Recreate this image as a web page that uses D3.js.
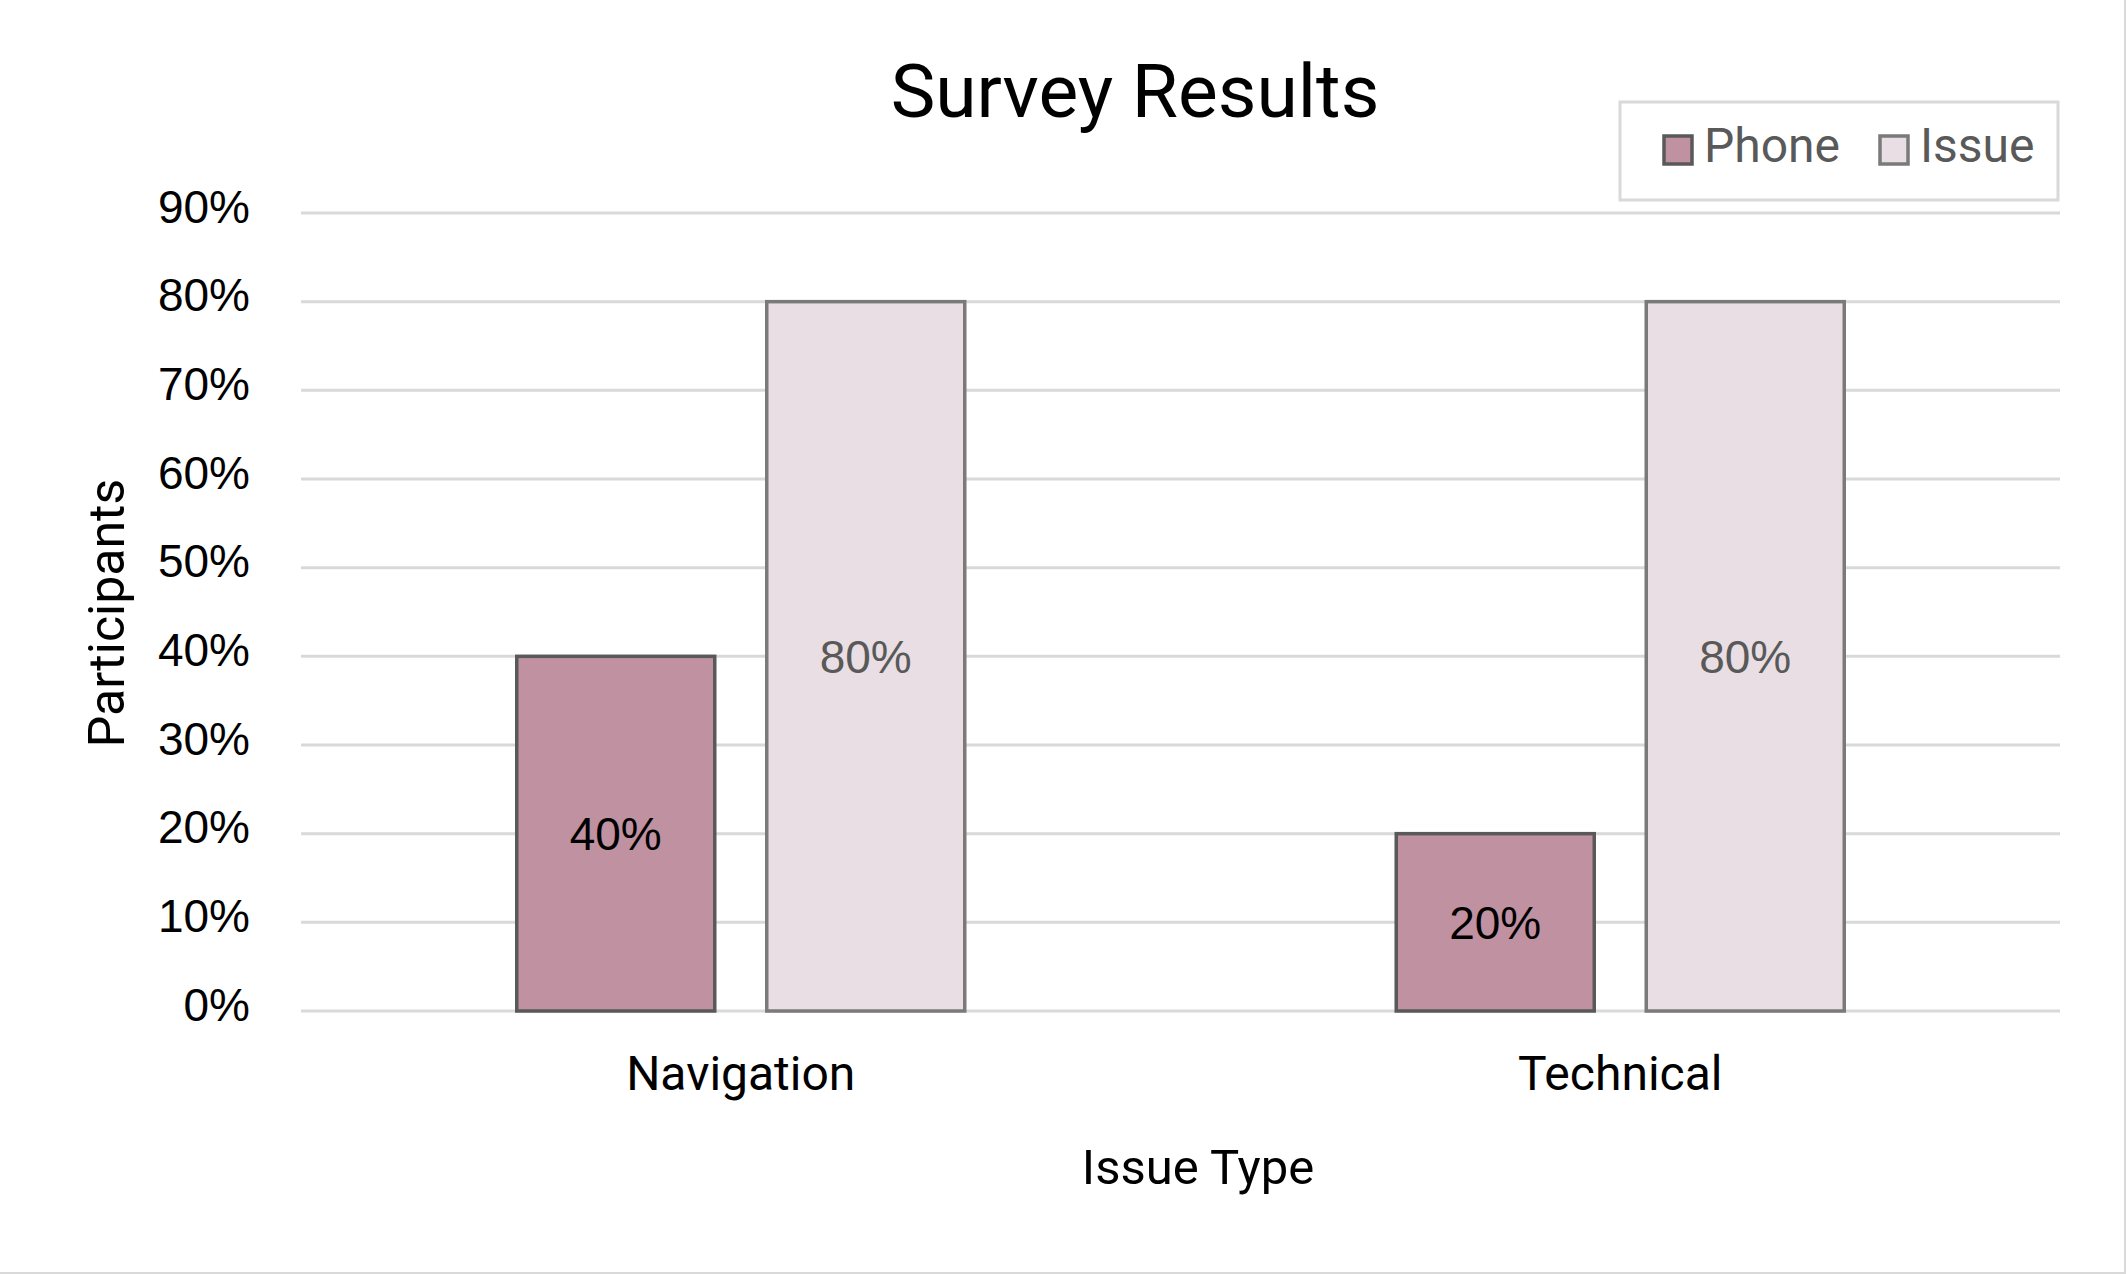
<!DOCTYPE html>
<html>
<head>
<meta charset="utf-8">
<script src="https://cdn.jsdelivr.net/npm/d3@7"></script>
<style>
  html, body { margin: 0; padding: 0; background: #fff; }
  svg { display: block; }
</style>
</head>
<body>
<div id="chart"></div>
<script>
// data
const categories = ['Navigation', 'Technical'];
const seriesNames = ['Phone', 'Issue'];
const phoneValues = [0.40, 0.20];
const issueValues = [0.80, 0.80];
const yTicks = [0, 0.1, 0.2, 0.3, 0.4, 0.5, 0.6, 0.7, 0.8, 0.9];

const width = 2126, height = 1274;
const margin = { top: 213, bottom: 263, left: 301, right: 66 };

const fills = { Phone: '#C091A0', Issue: '#E9DEE3' };
const strokes = { Phone: '#595959', Issue: '#7A7A7A' };
const labelColors = { Phone: '#000000', Issue: '#595959' };

const rows = categories.map((c, i) => ({ category: c, Phone: phoneValues[i], Issue: issueValues[i] }));

const svg = d3.select('#chart')
    .append('svg')
    .attr('width', width)
    .attr('height', height);

// right / bottom edge of the chart area
svg.append('path')
    .attr('d', `M${width - 1},0V${height - 1}H0`)
    .style('fill', 'none')
    .style('stroke', '#d9d9d9')
    .style('stroke-width', 2);

// scales
const x0 = d3.scaleBand(categories, [margin.left, width - margin.right]);
const x1 = d3.scaleBand(seriesNames, [0, x0.bandwidth()])
    .paddingInner(0.208)
    .paddingOuter(0.863);
const y = d3.scaleLinear([0, 0.9], [height - margin.bottom, margin.top]);

// gridlines
svg.append('g')
    .selectAll('line')
    .data(yTicks)
    .join('line')
    .attr('x1', margin.left)
    .attr('x2', width - margin.right)
    .attr('y1', d => y(d))
    .attr('y2', d => y(d))
    .style('stroke', '#d9d9d9')
    .style('stroke-width', 3);

// y axis labels
const axisY = svg.append('g')
    .attr('transform', `translate(${margin.left}, 0)`)
    .call(d3.axisLeft(y).tickValues(yTicks).tickFormat(d3.format('.0%')).tickSize(0).tickPadding(51));
axisY.select('.domain').remove();
axisY.selectAll('text')
    .attr('dy', '0.2em')
    .style('font-family', '"Liberation Sans", Arial, sans-serif')
    .style('font-size', '46px')
    .style('fill', '#000');

// x axis labels
const axisX = svg.append('g')
    .attr('transform', `translate(0, ${height - margin.bottom})`)
    .call(d3.axisBottom(x0).tickSize(0).tickPadding(45));
axisX.select('.domain').remove();
axisX.selectAll('text')
    .style('font-family', 'Roboto, sans-serif')
    .style('font-size', '48px')
    .style('fill', '#000');

// bars
const groups = svg.append('g')
    .selectAll('g')
    .data(rows)
    .join('g')
    .attr('transform', d => `translate(${x0(d.category)}, 0)`);

const items = groups.selectAll('g')
    .data(d => seriesNames.map(s => ({ key: s, value: d[s] })))
    .join('g');

items.append('rect')
    .attr('x', d => x1(d.key))
    .attr('y', d => y(d.value))
    .attr('width', x1.bandwidth())
    .attr('height', d => y(0) - y(d.value))
    .style('fill', d => fills[d.key])
    .style('stroke', d => strokes[d.key])
    .style('stroke-width', 3.5);

// data labels
items.append('text')
    .attr('x', d => x1(d.key) + x1.bandwidth() / 2)
    .attr('y', d => (y(d.value) + y(0)) / 2)
    .attr('dy', '0.36em')
    .style('text-anchor', 'middle')
    .style('font-family', '"Liberation Sans", Arial, sans-serif')
    .style('font-size', '46px')
    .style('fill', d => labelColors[d.key])
    .text(d => d3.format('.0%')(d.value));

// title
svg.append('text')
    .attr('x', 1135)
    .attr('y', 117)
    .style('text-anchor', 'middle')
    .style('font-family', 'Roboto, sans-serif')
    .style('font-size', '75px')
    .style('fill', '#000')
    .text('Survey Results');

// axis titles
svg.append('text')
    .attr('x', 1198)
    .attr('y', 1184)
    .style('text-anchor', 'middle')
    .style('font-family', 'Roboto, sans-serif')
    .style('font-size', '49px')
    .style('fill', '#000')
    .text('Issue Type');

svg.append('text')
    .attr('transform', `translate(124, 613)rotate(-90)`)
    .style('text-anchor', 'middle')
    .style('font-family', 'Roboto, sans-serif')
    .style('font-size', '50px')
    .style('fill', '#000')
    .text('Participants');

// legend
const legend = svg.append('g')
    .attr('transform', 'translate(1620, 102)');
legend.append('rect')
    .attr('width', 438)
    .attr('height', 98)
    .style('fill', '#fff')
    .style('stroke', '#d9d9d9')
    .style('stroke-width', 3);

const legendItems = legend.selectAll('g.legend-item')
    .data(seriesNames)
    .join('g')
    .classed('legend-item', true)
    .attr('transform', (_, i) => `translate(${[44, 260][i]}, 34)`);

legendItems.append('rect')
    .attr('width', 28)
    .attr('height', 28)
    .style('fill', d => fills[d])
    .style('stroke', d => strokes[d])
    .style('stroke-width', 3.5);

legendItems.append('text')
    .attr('x', 40)
    .attr('y', 26)
    .style('font-family', 'Roboto, sans-serif')
    .style('font-size', '48px')
    .style('fill', '#595959')
    .text(d => d);
</script>
</body>
</html>
